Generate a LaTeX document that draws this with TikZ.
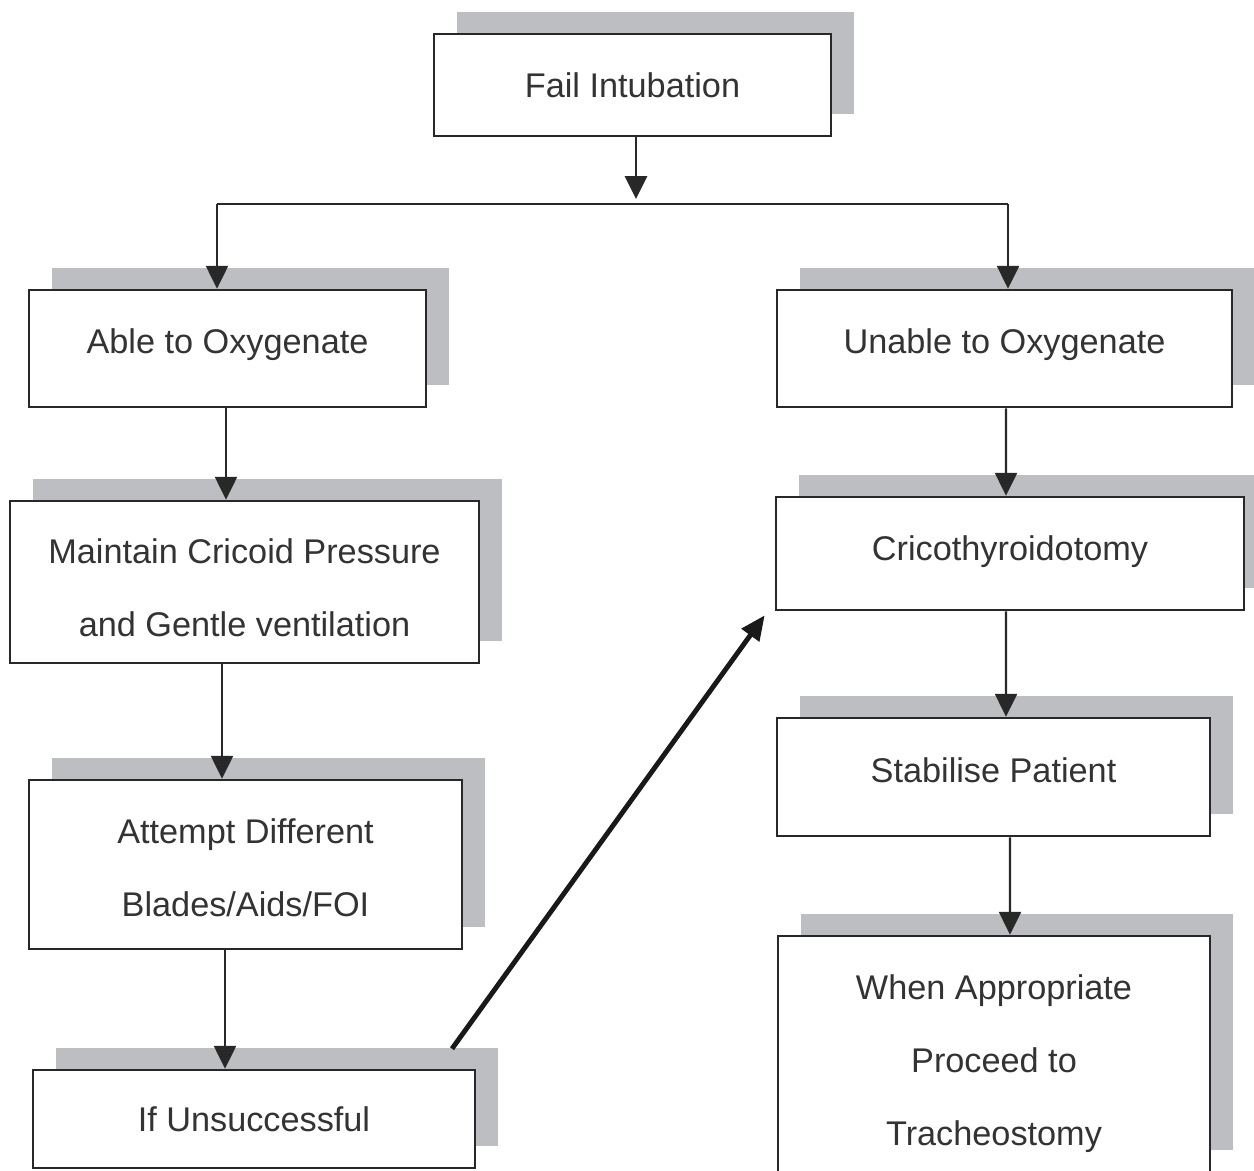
\documentclass[tikz,border=0pt]{standalone}
\usepackage{fontspec}
\setmainfont{Liberation Sans}
\usetikzlibrary{arrows.meta,shadows,calc}
\definecolor{shadowgray}{RGB}{189,190,194}
\definecolor{inkgray}{RGB}{40,40,40}
\newcommand{\mvline}[2]{\raisebox{#1}[\height][\depth]{#2}}
\begin{document}
\begin{tikzpicture}[x=0.02cm,y=-0.02cm,
  box/.style 2 args={draw=inkgray, line width=1.5pt, fill=white, inner sep=0pt,
    minimum width=#1*0.02cm, minimum height=#2*0.02cm, align=center,
    font=\fontsize{19.5}{41.5}\selectfont, text=black!80,
    general shadow={fill=shadowgray, shadow xshift=0.46cm, shadow yshift=0.44cm}},
  arr/.style={draw=inkgray, line width=1.4pt, -{Triangle[width=12.5pt,length=13pt]}},
  line/.style={draw=inkgray, line width=1.4pt},
  bigarr/.style={draw=black!90, line width=2.8pt, -{Triangle[width=12pt,length=14pt]}}]
\useasboundingbox (0,0) rectangle (1254,1170);

\node[box={397}{102}] (fail) at (632.5,85) {Fail Intubation};
\node[box={397}{117}] (able) at (227.5,348.5) {\mvline{0.08cm}{Able to Oxygenate}};
\node[box={455}{117}] (unable) at (1004.5,348.5) {\mvline{0.08cm}{Unable to Oxygenate}};
\node[box={469}{162}] (maint) at (244.5,582) {\mvline{-0.12cm}{Maintain Cricoid Pressure}\\\mvline{-0.12cm}{and Gentle ventilation}};
\node[box={468}{113}] (crico) at (1010,553.5) {\mvline{0.04cm}{Cricothyroidotomy}};
\node[box={433}{169}] (attempt) at (245.5,864.5) {\mvline{-0.06cm}{Attempt Different}\\\mvline{-0.06cm}{Blades/Aids/FOI}};
\node[box={433}{118}] (stab) at (993.5,777) {\mvline{0.14cm}{Stabilise Patient}};
\node[box={432}{236}] (when) at (994,1054) {\mvline{-0.2cm}{When Appropriate}\\\mvline{-0.2cm}{Proceed to}\\\mvline{-0.2cm}{Tracheostomy}};
\node[box={442}{98}] (ifun) at (254,1119) {If Unsuccessful};

\coordinate (forkL) at (217,204);
\coordinate (forkR) at (1008,204);
\draw[line] (forkL) -- (forkR);
\draw[arr] ($(fail.south)+(3.5,0)$) -- ($(fail.south |- forkL)+(3.5,-5)$);
\draw[arr] (forkL) -- (forkL |- able.north);
\draw[arr] (forkR) -- (forkR |- unable.north);

\draw[arr] ($(able.south)+(-1.5,0)$) -- ($(maint.north)+(-18.5,0)$);
\draw[arr] ($(maint.south)+(-22.5,0)$) -- ($(attempt.north)+(-23.5,0)$);
\draw[arr] ($(attempt.south)+(-20.5,0)$) -- ($(ifun.north)+(-29,0)$);

\draw[arr] ($(unable.south)+(1.5,0)$) -- ($(crico.north)+(-4,0)$);
\draw[arr] ($(crico.south)+(-4,0)$) -- ($(stab.north)+(12.5,0)$);
\draw[arr] ($(stab.south)+(16.5,0)$) -- ($(when.north)+(16,0)$);

\draw[bigarr] ($(ifun.north)+(198,-20)$) -- ($(crico.south west)+(-10,4)$);
\end{tikzpicture}
\end{document}
